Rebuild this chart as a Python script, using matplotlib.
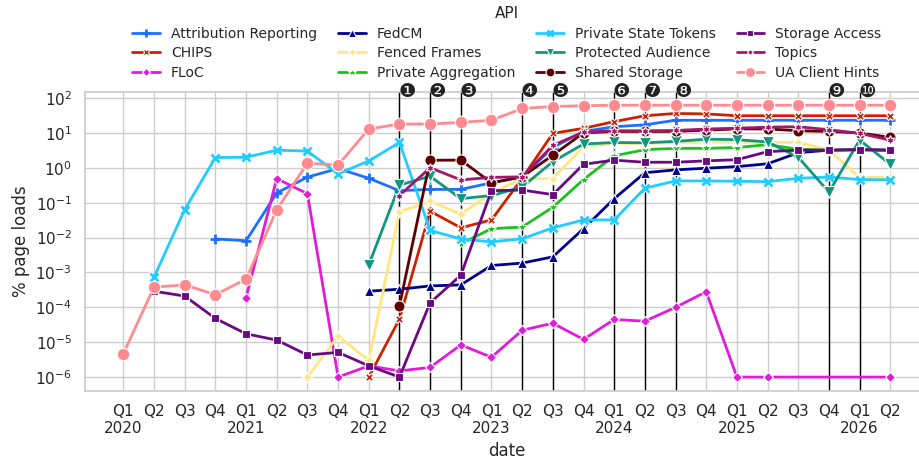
import matplotlib
matplotlib.use("Agg")
import matplotlib.pyplot as plt
import pandas as pd
import seaborn as sns

quarters = [str(p) for p in pd.period_range("2020Q1", "2026Q2", freq="Q")]

attribution = [None, None, None, 0.0091, 0.0081, 0.19, 0.54, 0.95, 0.50, 0.22, 0.24, 0.24, 0.37,
               0.55, 3.8, 11, 15, 17, 23, 23, 23, 23, 23, 23, 23, 23]
chips = [None] * 8 + [1e-6, 4.6e-5, 0.057, 0.019, 0.032, 0.5, 9.7, 13.5, 21, 31, 36, 35, 31, 31,
                      31, 31, 31, 31]
floc = [None] * 4 + [1.9e-4, 0.49, 0.18, 1e-6, 2.1e-6, 1.5e-6, 1.9e-6, 8.4e-6, 3.7e-6, 2.2e-5,
                     3.5e-5, 1.2e-5, 4.5e-5, 4.0e-5, 1.0e-4, 2.8e-4, 1e-6, 1e-6, None, None, None, 1e-6]
fedcm = [None] * 8 + [2.9e-4, 3.3e-4, 4.1e-4, 4.4e-4, 1.58e-3, 1.85e-3, 2.8e-3, 0.018, 0.13, 0.72,
                      0.87, 0.97, 1.08, 1.3, 2.7, 3.2, 3.3, 3.2]
fenced = [None] * 6 + [1e-6, 1.5e-5, 3.0e-6, 0.054, 0.11, 0.047, 0.19, 0.49, 0.49, 4.0, 5.0, 5.0,
                       5.3, 5.4, 5.4, 5.3, 5.4, 3.2, 0.52, 0.54]
private_agg = [None] * 11 + [0.0066, 0.018, 0.020, 0.074, 0.46, 2.2, 3.3, 3.6, 3.6, 3.8, 4.6, 3.4,
                             3.2, 3.3, 3.1]
pst = [None, 7.3e-4, 0.063, 1.96, 2.0, 3.2, 3.0, 0.67, 1.57, 5.3, 0.016, 0.0091, 0.0075, 0.0092,
       0.019, 0.032, 0.032, 0.26, 0.42, 0.42, 0.41, 0.40, 0.50, 0.54, 0.46, 0.45]
protected = [None] * 8 + [1.65e-3, 0.32, 0.57, 0.13, 0.16, 0.28, 1.5, 4.8, 5.3, 5.2, 5.7, 6.6, 6.4,
                          5.5, 2.0, 0.20, 6.2, 1.26]
shared = [None] * 9 + [1.1e-4, 1.64, 1.66, 0.37, 0.55, 2.3, 10, 11, 11, 11, 12, 13, 13, 11.5, 11,
                       10, 7.4]
storage = [None, 2.9e-4, 2.1e-4, 4.8e-5, 1.74e-5, 1.15e-5, 4.3e-6, 5.1e-6, 2.1e-6, 1.0e-6, 1.35e-4,
           8.3e-4, 0.22, 0.23, 0.17, 1.26, 1.65, 1.44, 1.44, 1.58, 1.7, 2.9, 3.2, 3.2, 3.3, 3.2]
topics = [None] * 9 + [0.16, 1.0, 0.45, 0.53, 0.55, 4.4, 10.5, 11.5, 11.5, 11.7, 12.9, 13.6, 14.6,
                       15, 12.3, 9.7, 6.2]
ua_hints = [4.7e-6, 3.8e-4, 4.4e-4, 2.3e-4, 6.4e-4, 0.063, 1.35, 1.2, 12.9, 18, 18, 20, 23, 50, 57,
            60, 62, 62, 62, 62, 62, 62, 62, 62, 62, 62]

# quarters where the numbered events happen
events = ["2022Q2", "2022Q3", "2022Q4", "2023Q2", "2023Q3", "2024Q1", "2024Q2", "2024Q3",
          "2025Q4", "2026Q1"]
event_marks = ["❶", "❷", "❸", "❹", "❺", "❻", "❼", "❽", "❾", "❿"]

# name, values, color, marker, size
series = [
    ("Attribution Reporting", attribution, "#1f6fff", "+", 7),
    ("CHIPS", chips, "#cc2200", "X", 6),
    ("FLoC", floc, "#e21ad9", "D", 5),
    ("FedCM", fedcm, "#00008b", "^", 7),
    ("Fenced Frames", fenced, "#ffe680", (4, 1, 0), 8),
    ("Private Aggregation", private_agg, "#1fbf1f", "*", 8),
    ("Private State Tokens", pst, "#22ccff", "x", 6),
    ("Protected Audience", protected, "#13967f", "v", 8),
    ("Shared Storage", shared, "#5e0000", "o", 8),
    ("Storage Access", storage, "#6a0a80", "s", 6),
    ("Topics", topics, "#a3166d", (6, 1, 0), 7),
    ("UA Client Hints", ua_hints, "#ff8a90", "o", 9),
]

sns.set_theme(style="whitegrid")
plt.rcParams["font.family"] = ["DejaVu Sans"]

fig = plt.figure(figsize=(9.2, 4.59), dpi=100)
ax = fig.add_axes([0.0924, 0.1488, 0.917, 0.6514])

for name, vals, color, marker, ms in series:
    xs = [i for i, v in enumerate(vals) if v is not None]
    ys = [v for v in vals if v is not None]
    if marker in ("+", "x"):
        # white halo under line-art markers
        ax.plot(xs, ys, ls="none", marker=marker, ms=ms + 1.5, mew=3.6, color="white")
        ax.plot(xs, ys, color=color, lw=2, marker=marker, ms=ms, mew=2, label=name)
    else:
        ax.plot(xs, ys, color=color, lw=2, marker=marker, ms=ms, mec="white", mew=0.8,
                label=name)

ax.set_yscale("log")
ax.set_xlim(-1.25, len(quarters) - 1 + 1.25)
ax.set_ylim(10 ** -6.39, 10 ** 2.18)
ax.set_yticks([10.0 ** k for k in range(-6, 3)])
ax.minorticks_off()

labels = []
for q in quarters:
    year, qq = q.split("Q")
    labels.append("Q" + qq + ("\n" + year if qq == "1" else ""))
ax.set_xticks(range(len(quarters)))
ax.set_xticklabels(labels, fontsize=11, va="top")
ax.tick_params(axis="y", labelsize=11)

for q, mark in zip(events, event_marks):
    xi = quarters.index(q)
    ax.axvline(xi, color="black", lw=1, zorder=1.5)
    ax.text(xi - 0.04, 1.0, mark, transform=ax.get_xaxis_transform(), ha="left", va="center",
            fontsize=14, color="#222222", clip_on=False)

ax.set_xlabel("date", fontsize=12)
ax.set_ylabel("% page loads", fontsize=12)

ax.legend(title="API", ncol=4, loc="lower center", bbox_to_anchor=(0.5, 1.006), frameon=False,
          fontsize=10, title_fontsize=11, handlelength=2.0, columnspacing=1.5, labelspacing=0.42,
          markerscale=0.8, borderpad=0.2)

fig.savefig("out.png", dpi=100)
